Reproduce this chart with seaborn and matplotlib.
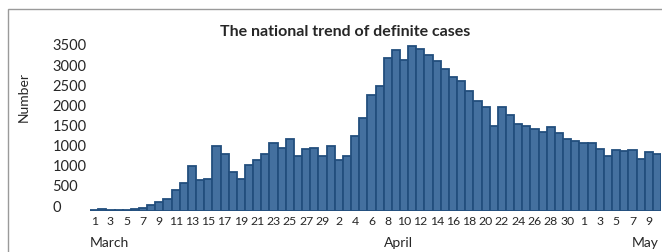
import numpy as np
import pandas as pd
import matplotlib.pyplot as plt
import seaborn as sns
from matplotlib.patches import Rectangle

# daily definite cases, 1 March .. 9 May
cases = [20, 42, 28, 28, 28, 49, 70, 133, 182, 251,
         433, 594, 936, 657, 671, 1362, 1188, 817, 664, 971,
         1062, 1188, 1425, 1327, 1516, 1160, 1292, 1313, 1153, 1362,
         1069, 1146, 1565, 1949, 2424, 2620, 3207, 3367, 3172, 3458,
         3402, 3262, 3144, 2969, 2801, 2717, 2508, 2305, 2187, 1788,
         2173, 2019, 1816, 1774, 1725, 1649, 1754, 1642, 1509, 1474,
         1432, 1432, 1306, 1146, 1271, 1250, 1271, 1097, 1230, 1188]

day_labels = ["1", "3", "5", "7", "9", "11", "13", "15", "17", "19", "21", "23",
              "25", "27", "29", "2", "4", "6", "8", "10", "12", "14", "16", "18",
              "20", "22", "24", "26", "28", "30", "1", "3", "5", "7", "9"]
y_labels = ["0", "500", "1000", "1000", "1500", "2000", "2500", "3000", "3500"]
months = ["March", "April", "May"]

df = pd.DataFrame({"day": np.arange(len(cases)), "cases": cases})

sns.set_style("white")
plt.rcParams["font.family"] = ["Lato", "DejaVu Sans"]

fig = plt.figure(figsize=(6.62, 2.53), dpi=100)
ax = fig.add_axes([0.136, 0.162, 0.8625, 0.68])

sns.barplot(data=df, x="day", y="cases", color="#44709f", saturation=1,
            width=1.0, edgecolor="#224e7d", linewidth=1.3, ax=ax)

ax.set_xlim(-0.5, len(cases) - 0.5)
ax.set_ylim(0, 3605)
sns.despine(ax=ax, left=True, bottom=True)

ax.set_xticks(np.arange(0, len(cases), 2))
ax.set_xticklabels(day_labels, fontsize=8.8)
ax.set_yticks(np.linspace(126, 3500, len(y_labels)))
ax.set_yticklabels(y_labels, fontsize=10.5, ha="left")
ax.tick_params(axis="y", length=0, pad=27)
ax.tick_params(axis="x", length=0, pad=3)
ax.set_xlabel("")
ax.set_ylabel("Number", fontsize=10)
ax.yaxis.set_label_coords(-0.105, 0.67)

fig.text(345 / 662, 1 - 32 / 253, "The national trend of definite cases",
         fontsize=11.5, fontweight="bold", ha="center", va="center")

tr = ax.get_xaxis_transform()
ax.text(-0.5, -0.18, months[0], transform=tr, fontsize=10, ha="left", va="center")
ax.text(35.5, -0.18, months[1], transform=tr, fontsize=10, ha="left", va="center")
ax.text(69.2, -0.18, months[2], transform=tr, fontsize=10, ha="right", va="center")

# outer chart frame (cut off at right and bottom)
fig.patches.append(Rectangle((8 / 662, -0.1), 1.2, (253 - 10) / 253 + 0.1,
                             transform=fig.transFigure, fill=False,
                             edgecolor="#9a9a9a", linewidth=1))

fig.savefig("out.png", dpi=100)
